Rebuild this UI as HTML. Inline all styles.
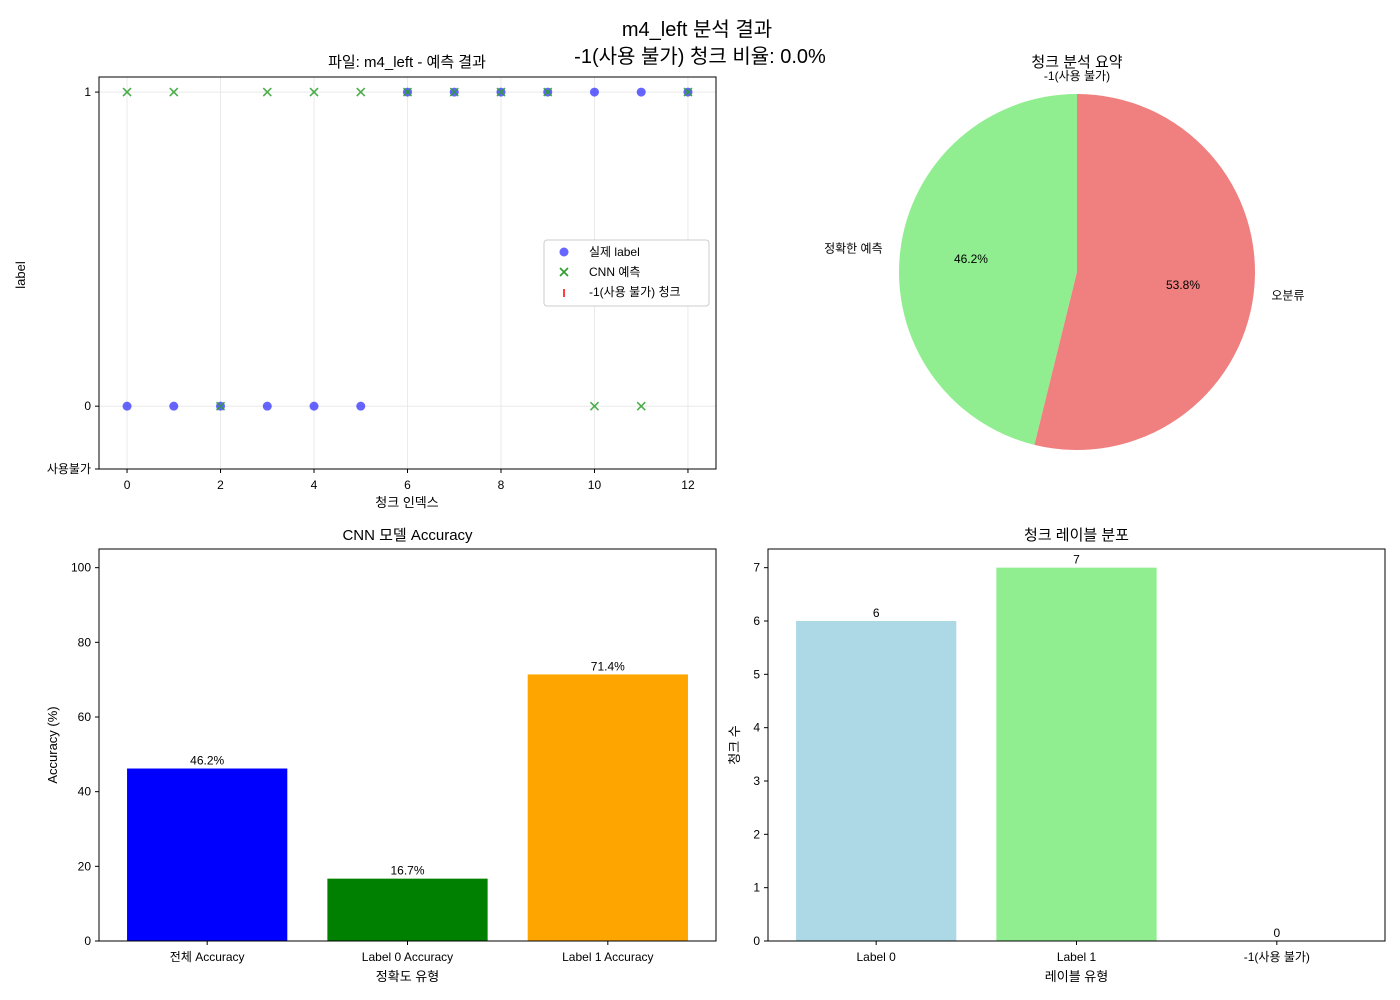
<!DOCTYPE html>
<html><head><meta charset="utf-8">
<style>
html,body{margin:0;padding:0;background:#fff;}
svg{display:block;font-family:"Liberation Sans","Noto Sans CJK KR",sans-serif;}
</style></head>
<body>
<svg id="fig" width="1400" height="1000" viewBox="0 0 1400 1000" xmlns="http://www.w3.org/2000/svg">
<rect width="1400" height="1000" fill="#fff"/>
<text x="697" y="36" font-size="20" text-anchor="middle">m4_left 분석 결과</text>
<text x="700" y="63" font-size="20" text-anchor="middle">-1(사용 불가) 청크 비율: 0.0%</text>
<g id="g1"></g>
<g id="g2"></g>
<g id="g3"></g>
<g id="g4"></g>
</svg>
<script>
// ---- scatter data ----
const chunkIdx = [0,1,2,3,4,5,6,7,8,9,10,11,12];
const actualLabels = [0,0,0,0,0,0,1,1,1,1,1,1,1];
const cnnPreds = [1,1,0,1,1,1,1,1,1,1,0,0,1];
const scatterXTicks = [0,2,4,6,8,10,12];
// ---- pie data ----
const pieLabels = ["-1(사용 불가)","정확한 예측","오분류"];
const pieValues = [0,6,7];
const pieColors = ["#add8e6","#90ee90","#f08080"];
// ---- accuracy data ----
const accCats = ["전체 Accuracy","Label 0 Accuracy","Label 1 Accuracy"];
const accVals = [46.2,16.7,71.4];
const accColors = ["#0000ff","#008000","#ffa500"];
const accTicks = [0,20,40,60,80,100];
// ---- label distribution data ----
const distCats = ["Label 0","Label 1","-1(사용 불가)"];
const distVals = [6,7,0];
const distColors = ["#add8e6","#90ee90","#add8e6"];
const distTicks = [0,1,2,3,4,5,6,7];

const NS="http://www.w3.org/2000/svg";
function mk(parent,tag,attrs,text){const e=document.createElementNS(NS,tag);for(const k in attrs)e.setAttribute(k,attrs[k]);if(text!==undefined)e.textContent=text;parent.appendChild(e);return e;}

// ===== Panel 1: scatter =====
(function(){
  const g=document.getElementById('g1');
  const L=99,R=716,T=77,B=469;
  const sx=v=>L+(v-(-0.6))/(12.6-(-0.6))*(R-L);
  const sy=v=>B-(v-(-0.2))/(1.048-(-0.2))*(B-T);
  let t=mk(g,'text',{x:407,y:67,'font-size':15,'text-anchor':'middle'},'파일: m4_left - 예측 결과');
  
  scatterXTicks.forEach(v=>{
    let l=mk(g,'line',{x1:sx(v),x2:sx(v),y1:T,y2:B,stroke:'#e6e6e6','stroke-width':0.8});
    
    mk(g,'line',{x1:sx(v),x2:sx(v),y1:B,y2:B+4,stroke:'#000'});
    let tx=mk(g,'text',{x:sx(v),y:B+20,'font-size':12,'text-anchor':'middle'},String(v));
    
  });
  [[1,'1'],[0,'0'],[-0.2,'사용불가']].forEach(([v,s])=>{
    if(v>=0){let l=mk(g,'line',{x1:L,x2:R,y1:sy(v),y2:sy(v),stroke:'#e6e6e6','stroke-width':0.8});
      }
    mk(g,'line',{x1:L-4,x2:L,y1:sy(v),y2:sy(v),stroke:'#000'});
    let tx=mk(g,'text',{x:L-8,y:sy(v)+4,'font-size':12,'text-anchor':'end'},s);
    
  });
  chunkIdx.forEach((c,i)=>{
    let p=mk(g,'circle',{cx:sx(c),cy:sy(actualLabels[i]),r:4.5,fill:'#0000ff','fill-opacity':0.6});
    
  });
  chunkIdx.forEach((c,i)=>{
    const x=sx(c),y=sy(cnnPreds[i]),d=4;
    let p=mk(g,'path',{d:`M${x-d},${y-d}L${x+d},${y+d}M${x-d},${y+d}L${x+d},${y-d}`,stroke:'#2ca02c','stroke-opacity':0.85,'stroke-width':1.6});
    
  });
  let fr=mk(g,'rect',{x:L,y:T,width:R-L,height:B-T,fill:'none',stroke:'#000','stroke-width':1});
  
  let xl=mk(g,'text',{x:407,y:507,'font-size':13,'text-anchor':'middle'},'청크 인덱스');
  
  let yl=mk(g,'text',{x:25,y:275,'font-size':13,'text-anchor':'middle',transform:'rotate(-90 25 275)'},'label');
  
  // legend
  const lg=mk(g,'g',{});
  
  mk(lg,'rect',{x:544,y:240,width:165,height:66,rx:3,fill:'#fff',stroke:'#ccc'});
  let e1=mk(lg,'g',{});
  mk(e1,'circle',{cx:564,cy:252,r:4.5,fill:'#0000ff','fill-opacity':0.6});
  mk(e1,'text',{x:589,y:256,'font-size':12},'실제 label');
  let e2=mk(lg,'g',{});
  mk(e2,'path',{d:'M560,268L568,276M560,276L568,268',stroke:'#2ca02c','stroke-width':1.6});
  mk(e2,'text',{x:589,y:276,'font-size':12},'CNN 예측');
  let e3=mk(lg,'g',{});
  mk(e3,'line',{x1:564,x2:564,y1:289,y2:297,stroke:'#ff0000','stroke-width':1.5});
  mk(e3,'text',{x:589,y:296,'font-size':12},'-1(사용 불가) 청크');
})();

// ===== Panel 2: pie =====
(function(){
  const g=document.getElementById('g2');
  const cx=1077,cy=272,r=178;
  let t=mk(g,'text',{x:1077,y:67,'font-size':15,'text-anchor':'middle'},'청크 분석 요약');
  
  const total=pieValues.reduce((a,b)=>a+b,0);
  let ang=90;
  pieValues.forEach((v,i)=>{
    const sweep=v/total*360, a0=ang, a1=ang+sweep, mid=(a0+a1)/2;
    const rad=a=>a*Math.PI/180;
    if(sweep>0){
      const x0=cx+r*Math.cos(rad(a0)),y0=cy-r*Math.sin(rad(a0));
      const x1=cx+r*Math.cos(rad(a1)),y1=cy-r*Math.sin(rad(a1));
      let p=mk(g,'path',{d:`M${cx},${cy}L${x0},${y0}A${r},${r} 0 ${sweep>180?1:0} 0 ${x1},${y1}Z`,fill:pieColors[i]});
      
    }
    const lx=cx+1.1*r*Math.cos(rad(mid)),ly=cy-1.1*r*Math.sin(rad(mid));
    const anc=Math.abs(Math.cos(rad(mid)))<1e-6?'middle':(Math.cos(rad(mid))>0?'start':'end');
    let lt=mk(g,'text',{x:lx,y:ly+4,'font-size':12,'text-anchor':anc},pieLabels[i]);
    
    const px=cx+0.6*r*Math.cos(rad(mid)),py=cy-0.6*r*Math.sin(rad(mid));
    let pt=mk(g,'text',{x:px,y:py+4,'font-size':12,'text-anchor':'middle'},(v/total*100).toFixed(1)+'%');
    
    ang=a1;
  });
})();

// ===== bar helper =====
function barPanel(g,L,R,T,B,ymax,cats,vals,colors,ticks,fmt,title,xt,yt,ytx){
  const n=cats.length, xmin=-0.54, xmax=n-1+0.54;
  const sx=v=>L+(v-xmin)/(xmax-xmin)*(R-L);
  const sy=v=>B-v/ymax*(B-T);
  const w=0.8*(R-L)/(xmax-xmin);
  let t=mk(g,'text',{x:(L+R)/2,y:T-9,'font-size':15,'text-anchor':'middle'},title);
  
  ticks.forEach(v=>{
    mk(g,'line',{x1:L-4,x2:L,y1:sy(v),y2:sy(v),stroke:'#000'});
    let tx=mk(g,'text',{x:L-8,y:sy(v)+4,'font-size':12,'text-anchor':'end'},String(v));
    
  });
  cats.forEach((c,i)=>{
    const x=sx(i);
    let b=mk(g,'rect',{x:x-w/2,y:sy(vals[i]),width:w,height:B-sy(vals[i]),fill:colors[i]});
    
    let vl=mk(g,'text',{x:x,y:sy(vals[i])-4,'font-size':12,'text-anchor':'middle'},fmt(vals[i]));
    
    mk(g,'line',{x1:x,x2:x,y1:B,y2:B+4,stroke:'#000'});
    let cl=mk(g,'text',{x:x,y:B+20,'font-size':12,'text-anchor':'middle'},c);
    
  });
  let fr=mk(g,'rect',{x:L,y:T,width:R-L,height:B-T,fill:'none',stroke:'#000','stroke-width':1});
  
  let xl=mk(g,'text',{x:(L+R)/2,y:B+40,'font-size':13,'text-anchor':'middle'},xt);
  
  const ym=(T+B)/2;
  let yl=mk(g,'text',{x:ytx,y:ym,'font-size':13,'text-anchor':'middle',transform:`rotate(-90 ${ytx} ${ym})`},yt);
  
}
barPanel(document.getElementById('g3'),99,716,549,941,105,accCats,accVals,accColors,accTicks,v=>v.toFixed(1)+'%','CNN 모델 Accuracy','정확도 유형','Accuracy (%)',57);
barPanel(document.getElementById('g4'),768,1385,549,941,7.35,distCats,distVals,distColors,distTicks,v=>String(v),'청크 레이블 분포','레이블 유형','청크 수',739);
</script>
</body></html>
